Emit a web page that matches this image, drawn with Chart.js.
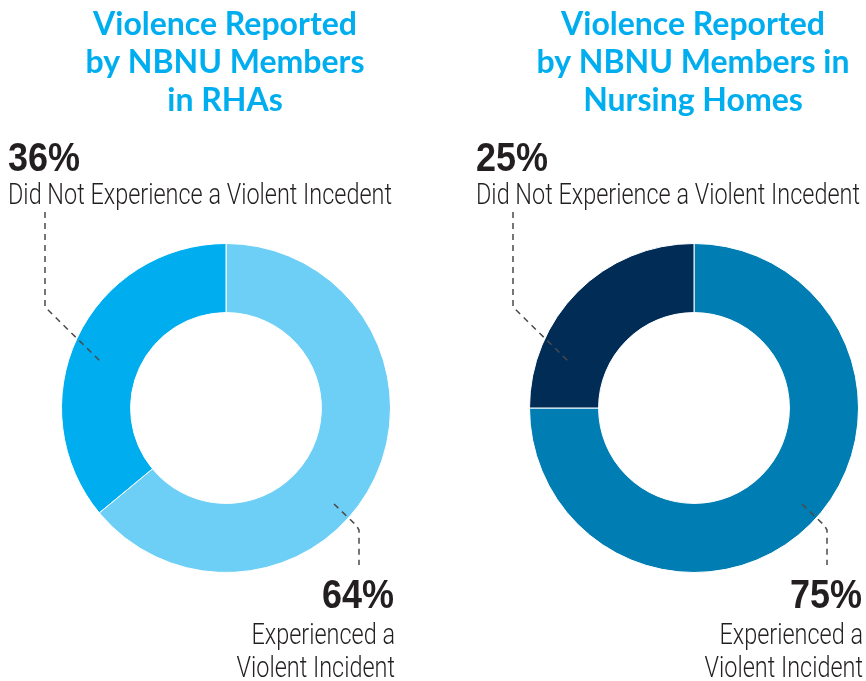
<!DOCTYPE html>
<html>
<head>
<meta charset="utf-8">
<script src="https://cdn.jsdelivr.net/npm/chart.js@4"></script>
<style>
    html, body { margin: 0; padding: 0; background: #fff; }
    #wrap { position: relative; width: 866px; height: 681px; overflow: hidden; }
    .painel { position: absolute; top: 0; width: 433px; height: 681px; }
</style>
</head>
<body>
<div id="wrap">
    <div class="painel" style="left:0"><canvas id="chartRha" width="433" height="681"></canvas></div>
    <div class="painel" style="left:433px"><canvas id="chartNursing" width="433" height="681"></canvas></div>
</div>
<script>
// ======================== DADOS ========================
const categorias = ['Experienced a Violent Incident', 'Did Not Experience a Violent Incedent'];
const valoresRha = [64, 36];
const valoresNursing = [75, 25];
const tituloRha = ['Violence Reported', 'by NBNU Members', 'in RHAs'];
const tituloNursing = ['Violence Reported', 'by NBNU Members in', 'Nursing Homes'];
const rotuloBaixo = ['Experienced a', 'Violent Incident'];

const TEXTO = '#231f20';
const FONTE_PCT = '"Liberation Sans Narrow", "Liberation Sans", Roboto, sans-serif';
const FONTE_DESC = 'Roboto, "Liberation Sans", sans-serif';

// escreve texto "condensado" (escala horizontal)
function textoCondensado(ctx, texto, x, y, align, sx) {
    ctx.save();
    ctx.translate(x, y);
    ctx.scale(sx, 1);
    ctx.textAlign = align;
    ctx.fillText(texto, 0, 0);
    ctx.restore();
}

function tracejado(ctx, pontos, cor) {
    ctx.save();
    ctx.strokeStyle = cor;
    ctx.lineWidth = 1.5;
    ctx.setLineDash([6, 5]);
    ctx.beginPath();
    ctx.moveTo(pontos[0][0], pontos[0][1]);
    for (let i = 1; i < pontos.length; i++) ctx.lineTo(pontos[i][0], pontos[i][1]);
    ctx.stroke();
    ctx.restore();
}

// ======================== PLUGIN DE TEXTOS ========================
const calloutPlugin = {
    id: 'callouts',
    afterDraw(chart, args, opts) {
        const arco = chart.getDatasetMeta(0).data[0];
        const cx = arco.x, cy = arco.y;
        const valores = chart.data.datasets[0].data;
        const ctx = chart.ctx;
        ctx.save();
        ctx.textBaseline = 'alphabetic';

        // título
        ctx.font = 'bold 32px Lato';
        ctx.fillStyle = '#00aeef';
        ctx.textAlign = 'center';
        opts.titulo.forEach((linha, i) => ctx.fillText(linha, cx - 1, 35 + i * 38));

        // linhas tracejadas
        tracejado(ctx, [[cx - 181, cy - 196], [cx - 181, cy - 101], [cx - 126, cy - 47]], '#4a4a4a');
        tracejado(ctx, [[cx + 108, cy + 96], [cx + 130, cy + 117], [cx + 133, cy + 122], [cx + 133, cy + 157]], '#4a4a4a');

        ctx.fillStyle = TEXTO;
        // percentuais
        ctx.font = 'bold 40px ' + FONTE_PCT;
        const sxPct = 72 / ctx.measureText('36%').width;
        textoCondensado(ctx, valores[1] + '%', cx - 218, cy - 237, 'left', sxPct);
        textoCondensado(ctx, valores[0] + '%', cx + 168, cy + 200, 'right', sxPct);

        // descrições
        ctx.font = '300 29px ' + FONTE_DESC;
        const sx = 384 / ctx.measureText(categorias[1]).width;
        textoCondensado(ctx, categorias[1], cx - 218, cy - 204, 'left', sx);
        textoCondensado(ctx, rotuloBaixo[0], cx + 169, cy + 236, 'right', sx);
        textoCondensado(ctx, rotuloBaixo[1], cx + 169, cy + 269, 'right', sx);
        ctx.restore();
    },
};

// ======================== GRÁFICOS ========================
function criarDonut(id, valores, cores, titulo, padding) {
    return new Chart(document.getElementById(id), {
        type: 'doughnut',
        data: {
            labels: categorias,
            datasets: [
                {
                    data: valores,
                    backgroundColor: cores,
                    borderColor: '#ffffff',
                    borderWidth: 1,
                },
            ],
        },
        options: {
            responsive: false,
            animation: false,
            cutout: '58%',
            layout: { padding: padding },
            plugins: {
                legend: { display: false },
                tooltip: { enabled: false },
                callouts: { titulo: titulo },
            },
        },
        plugins: [calloutPlugin],
    });
}

criarDonut('chartRha', valoresRha, ['#6dcff6', '#00aeef'], tituloRha,
    { left: 61, right: 42, top: 243, bottom: 108 });
criarDonut('chartNursing', valoresNursing, ['#007db3', '#012c55'], tituloNursing,
    { left: 96, right: 7, top: 243, bottom: 108 });
</script>
</body>
</html>
